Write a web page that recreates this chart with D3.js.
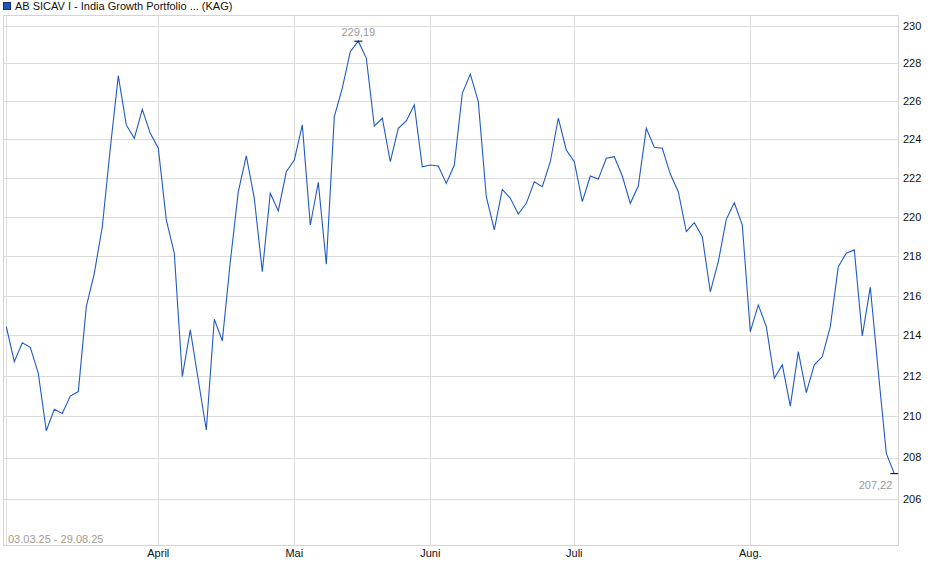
<!DOCTYPE html>
<html>
<head>
<meta charset="utf-8">
<script src="https://cdn.jsdelivr.net/npm/d3@7/dist/d3.min.js"></script>
<style>
html,body{margin:0;padding:0;background:#fff;}
svg text{font-family:"Liberation Sans",Arial,Helvetica,sans-serif;}
</style>
</head>
<body>
<svg id="chart" width="940" height="579"></svg>
<script>
const title = "AB SICAV I - India Growth Portfolio ... (KAG)";
const rangeLabel = "03.03.25 - 29.08.25";
const values = [
214.44,212.70,213.64,213.41,212.12,209.30,210.35,210.15,211.00,211.22,
215.44,217.12,219.49,223.54,227.34,224.76,224.06,225.58,224.32,223.54,
219.84,218.14,211.96,214.28,211.79,209.34,214.81,213.73,217.71,221.29,
223.15,220.95,217.21,221.21,220.30,222.32,222.93,224.76,219.58,221.77,
217.58,225.19,226.69,228.63,229.19,228.29,224.70,225.11,222.84,224.58,
224.97,225.81,222.58,222.67,222.62,221.72,222.67,226.42,227.44,225.98,
221.03,219.33,221.41,220.95,220.14,220.69,221.80,221.55,222.84,225.11,
223.45,222.84,220.78,222.10,221.94,223.02,223.10,222.10,220.69,221.58,
224.58,223.59,223.54,222.20,221.29,219.24,219.70,218.98,216.19,217.71,
219.87,220.72,219.58,214.19,215.53,214.44,211.88,212.54,210.51,213.20,
211.17,212.54,212.95,214.44,217.46,218.14,218.31,213.98,216.42,212.20,
208.20,207.22
];
const monthLabels = ["April","Mai","Juni","Juli","Aug."];
const monthIndex = [19,36,53,71,93];
const yTicks = [206,208,210,212,214,216,218,220,222,224,226,228,230];

const svg = d3.select("#chart");
const frame = {left:3, right:898, top:15.5, bottom:545.5};
const x = d3.scaleLinear().domain([0, values.length-1]).range([6.3, 894.3]);
const y = d3.scaleLog().domain([206,230]).range([499,26]);

const fmt = v => v.toFixed(2).replace(".", ",");

// gridlines horizontal
svg.append("g").selectAll("line").data(yTicks).join("line")
  .attr("x1", frame.left).attr("x2", frame.right)
  .attr("y1", d => Math.round(y(d))+0.5).attr("y2", d => Math.round(y(d))+0.5)
  .attr("stroke", "#dcdcdc").attr("stroke-width", 1);

// gridlines vertical
svg.append("g").selectAll("line").data([0].concat(monthIndex)).join("line")
  .attr("x1", d => Math.round(x(d))+0.5).attr("x2", d => Math.round(x(d))+0.5)
  .attr("y1", frame.top).attr("y2", frame.bottom)
  .attr("stroke", "#dcdcdc").attr("stroke-width", 1);

// frame
svg.append("rect")
  .attr("x", frame.left+0.5).attr("y", frame.top)
  .attr("width", frame.right-frame.left).attr("height", frame.bottom-frame.top)
  .attr("fill", "none").attr("stroke", "#d4d4d4").attr("stroke-width", 1);

// right axis labels
svg.append("g").selectAll("text").data(yTicks).join("text")
  .attr("x", 903).attr("y", d => y(d))
  .attr("dy", "0.36em")
  .attr("font-size", 11).attr("fill", "#111")
  .text(d => d);

// month labels
svg.append("g").selectAll("text").data(monthLabels).join("text")
  .attr("x", (d,i) => x(monthIndex[i])).attr("y", 557)
  .attr("text-anchor", "middle")
  .attr("font-size", 11).attr("fill", "#111")
  .text(d => d);

// range label
svg.append("text").attr("x", 8).attr("y", 543)
  .attr("font-size", 11).attr("fill", "#a39a90").text(rangeLabel);

// line
const line = d3.line().x((d,i) => x(i)).y(d => y(d));
svg.append("path").datum(values)
  .attr("d", line).attr("fill", "none")
  .attr("stroke", "#1f5ac6").attr("stroke-width", 1.1)
  .attr("stroke-linejoin", "miter");

// max / min markers
const maxI = d3.maxIndex(values), minI = d3.minIndex(values);
svg.append("line")
  .attr("x1", x(maxI)-4).attr("x2", x(maxI)+4)
  .attr("y1", y(values[maxI])).attr("y2", y(values[maxI]))
  .attr("stroke", "#000").attr("stroke-width", 1);
svg.append("text").attr("x", x(maxI)).attr("y", y(values[maxI])-5)
  .attr("text-anchor", "middle").attr("font-size", 11).attr("fill", "#999")
  .text(fmt(values[maxI]));
svg.append("line")
  .attr("x1", x(minI)-4).attr("x2", x(minI)+4)
  .attr("y1", y(values[minI])).attr("y2", y(values[minI]))
  .attr("stroke", "#000").attr("stroke-width", 1);
svg.append("text").attr("x", x(minI)-2).attr("y", y(values[minI])+15)
  .attr("text-anchor", "end").attr("font-size", 11).attr("fill", "#999")
  .text(fmt(values[minI]));

// legend
svg.append("rect").attr("x", 3.5).attr("y", 2.5).attr("width", 7).attr("height", 7)
  .attr("fill", "#1f56c0").attr("stroke", "#1a2f6a").attr("stroke-width", 1);
svg.append("text").attr("x", 15).attr("y", 10)
  .attr("font-size", 11).attr("fill", "#111").text(title);
</script>
</body>
</html>
